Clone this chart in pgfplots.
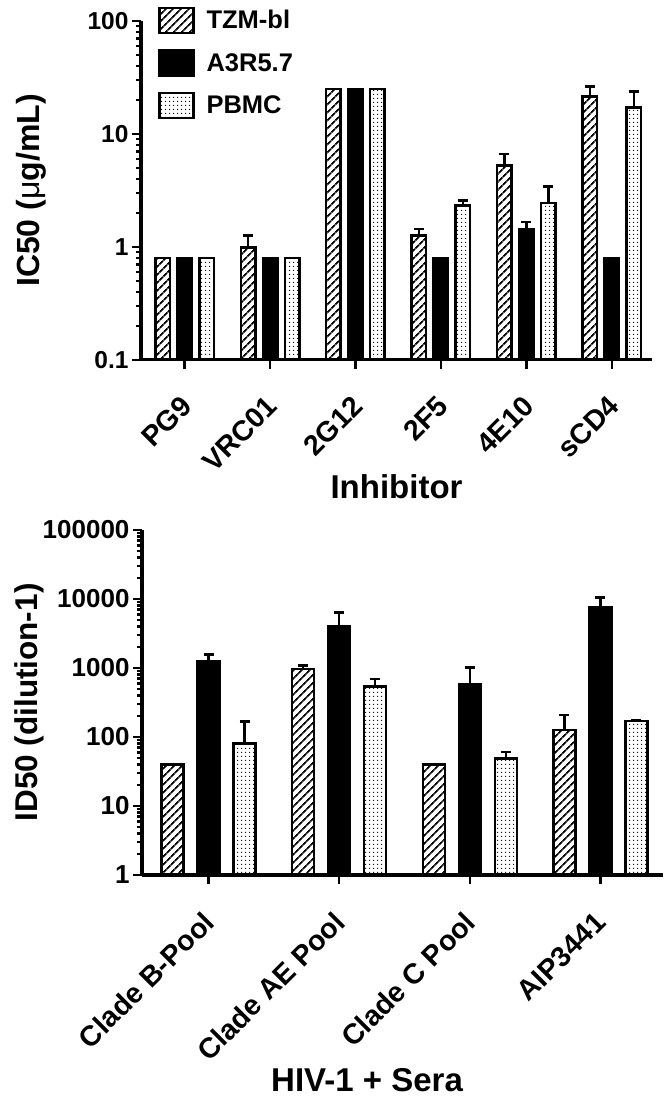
\documentclass[border=0pt]{standalone}
\usepackage{fontspec}
\setmainfont{Liberation Sans}
\usepackage{pgfplots}
\pgfplotsset{compat=1.18}
\usetikzlibrary{patterns.meta}

\tikzset{
  hatchbar/.style={draw=black, line width=2.5bp, pattern={Lines[angle=45,distance=6bp,line width=2.2bp]}},
  blackbar/.style={draw=black, line width=2.5bp, fill=black},
  dotbar/.style={draw=black, line width=2.5bp, pattern={Dots[distance=3.6bp,radius=0.8bp]}},
}

\begin{document}
\begin{tikzpicture}
\path[use as bounding box] (0,0) rectangle (670bp,1103bp);

% ---------- top panel ----------
\begin{axis}[
  scale only axis,
  axis lines*=left,
  axis line style={line width=3bp, black},
  ymode=log, log origin=infty,
  tick align=outside,
  major tick length=9bp, minor tick length=5bp,
  tick style={line width=2.5bp, black},
  yticklabel style={font=\fontsize{24.5bp}{26bp}\selectfont\bfseries},
  xticklabel style={font=\fontsize{28.5bp}{30bp}\selectfont\bfseries, xshift=-5bp, yshift=-22bp, rotate=45, anchor=north east, inner sep=2bp},
  ybar=7.5bp, bar width=14.5bp,
  error bars/y dir=plus, error bars/y explicit,
  error bars/error mark options={rotate=90, mark size=5bp, line width=2.5bp, black},
  error bars/error bar style={line width=2.5bp, black},
  legend image code/.code={\draw[#1] (0bp,-12.5bp) rectangle (34bp,12.5bp); \path (44bp,0bp);},
  at={(141bp,743bp)}, anchor=south west,
  width=511bp, height=339bp,
  xmin=-0.51, xmax=5.47, ymin=0.1, ymax=100,
  ytick={0.1,1,10,100}, yticklabels={0.1,1,10,100},
  minor ytick={0.2,0.3,0.4,0.5,0.6,0.7,0.8,0.9,2,3,4,5,6,7,8,9,20,30,40,50,60,70,80,90},
  xtick={0,...,5}, xticklabels={PG9,VRC01,2G12,2F5,4E10,sCD4},
  xlabel={Inhibitor}, ylabel={IC50 ({\mdseries μ}g/mL)},
  every axis x label/.style={at={(axis description cs:0.5,-0.375)}, anchor=center, font=\fontsize{33bp}{35bp}\selectfont\bfseries},
  every axis y label/.style={at={(axis description cs:-0.215,0.5)}, rotate=90, anchor=center, font=\fontsize{32bp}{34bp}\selectfont\bfseries},
  legend style={at={(axis description cs:0.033,1.043)}, anchor=north west, draw=none, fill=none,
    font=\fontsize{25.5bp}{27bp}\selectfont\bfseries, row sep=15bp, inner sep=0pt},
  legend cell align=left,
]
\addplot[hatchbar] coordinates {
  (0,0.8) +- (0,0) (1,0.99) +- (0,0.28) (2,25) +- (0,0)
  (3,1.27) +- (0,0.18) (4,5.25) +- (0,1.4) (5,21.5) +- (0,4.7)};
\addplot[blackbar] coordinates {
  (0,0.8) +- (0,0) (1,0.8) +- (0,0) (2,25) +- (0,0)
  (3,0.8) +- (0,0) (4,1.43) +- (0,0.23) (5,0.8) +- (0,0)};
\addplot[dotbar] coordinates {
  (0,0.8) +- (0,0) (1,0.8) +- (0,0) (2,25) +- (0,0)
  (3,2.33) +- (0,0.25) (4,2.44) +- (0,1.0) (5,17.2) +- (0,6.5)};
\legend{TZM-bl,A3R5.7,PBMC}
\end{axis}

% ---------- bottom panel ----------
\begin{axis}[
  scale only axis,
  axis lines*=left,
  axis line style={line width=3bp, black},
  ymode=log, log origin=infty,
  tick align=outside,
  major tick length=9bp, minor tick length=5bp,
  tick style={line width=2.5bp, black},
  yticklabel style={font=\fontsize{26bp}{28bp}\selectfont\bfseries},
  xticklabel style={font=\fontsize{28.5bp}{30bp}\selectfont\bfseries, xshift=-7bp, yshift=-23bp, rotate=45, anchor=north east, inner sep=2bp},
  ybar=14bp, bar width=22bp,
  error bars/y dir=plus, error bars/y explicit,
  error bars/error mark options={rotate=90, mark size=5bp, line width=2.5bp, black},
  error bars/error bar style={line width=2.5bp, black},
  at={(142bp,228bp)}, anchor=south west,
  width=521bp, height=345bp,
  xmin=-0.51, xmax=3.48, ymin=1, ymax=100000,
  ytick={1,10,100,1000,10000,100000}, yticklabels={1,10,100,1000,10000,100000},
  minor ytick={2,3,4,5,6,7,8,9,20,30,40,50,60,70,80,90,200,300,400,500,600,700,800,900,2000,3000,4000,5000,6000,7000,8000,9000,20000,30000,40000,50000,60000,70000,80000,90000},
  xtick={0,...,3}, xticklabels={Clade B-Pool,Clade AE Pool,Clade C Pool,AIP3441},
  xlabel={HIV-1 + Sera}, ylabel={ID50 (dilution-1)},
  every axis x label/.style={at={(axis description cs:0.432,-0.594)}, anchor=center, font=\fontsize{33bp}{35bp}\selectfont\bfseries},
  every axis y label/.style={at={(axis description cs:-0.217,0.5)}, rotate=90, anchor=center, font=\fontsize{31.5bp}{33bp}\selectfont\bfseries},
]
\addplot[hatchbar] coordinates {
  (0,40) +- (0,0) (1,967) +- (0,113) (2,40) +- (0,0) (3,126) +- (0,82)};
\addplot[blackbar] coordinates {
  (0,1260) +- (0,320) (1,3980) +- (0,2430) (2,580) +- (0,430) (3,7480) +- (0,3090)};
\addplot[dotbar] coordinates {
  (0,81) +- (0,86) (1,536) +- (0,157) (2,49) +- (0,12) (3,171) +- (0,4)};
\end{axis}
\end{tikzpicture}
\end{document}
